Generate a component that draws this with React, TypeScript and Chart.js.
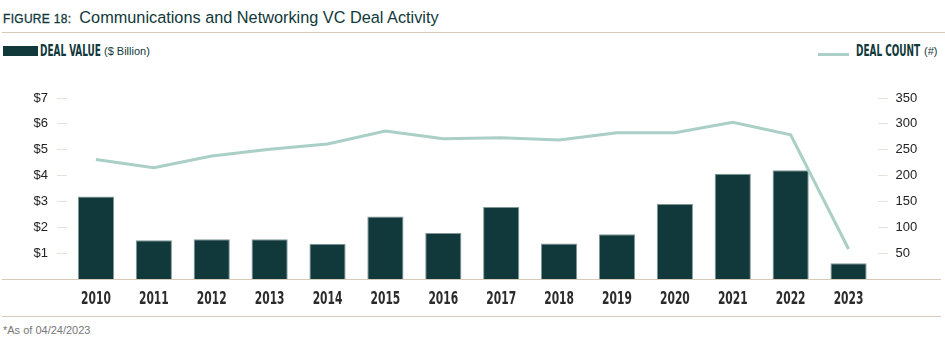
import React, { useEffect, useRef } from "react";
import { Chart, registerables } from "chart.js";

Chart.register(...registerables);

const years = ["2010", "2011", "2012", "2013", "2014", "2015", "2016", "2017", "2018", "2019", "2020", "2021", "2022", "2023"];
const dealValue = [3.19, 1.5, 1.54, 1.54, 1.36, 2.42, 1.78, 2.78, 1.37, 1.73, 2.9, 4.07, 4.21, 0.61];
const dealCount = [231, 215, 238, 251, 261, 286, 271, 273, 269, 283, 283, 303, 279, 58];
const valueTicks = [1, 2, 3, 4, 5, 6, 7];
const countTicks = [50, 100, 150, 200, 250, 300, 350];

const DARK = "#11383a";
const LINE = "#a9cfc6";
const RULE = "#d3cab9";
const TICKMARK = "#e6e1d7";
const TICKFONT = "'Liberation Sans', Arial, sans-serif";
const CONDENSED = "'DejaVu Sans Condensed', 'DejaVu Sans', sans-serif";

const narrowLabels = {
  id: "narrowLabels",
  afterDraw(chart: any) {
    const xs = chart.scales.x;
    const ctx = chart.ctx;
    const labels = chart.data.labels as string[];
    ctx.save();
    ctx.font = "bold 18px " + CONDENSED;
    ctx.fillStyle = "#2b2b2b";
    ctx.textAlign = "center";
    ctx.textBaseline = "alphabetic";
    const y = chart.chartArea.bottom + 25;
    labels.forEach((lab, i) => {
      const x = xs.getPixelForTick(i);
      ctx.save();
      ctx.translate(x, y);
      ctx.scale(0.66, 1);
      ctx.fillText(lab, 0, 0);
      ctx.restore();
    });
    ctx.restore();
  },
};

export default function App() {
  const ref = useRef<HTMLCanvasElement | null>(null);

  useEffect(() => {
    if (!ref.current) return;
    const chart = new Chart(ref.current, {
      data: {
        labels: years,
        datasets: [
          {
            type: "line",
            label: "Deal Count",
            data: dealCount,
            yAxisID: "yCount",
            borderColor: LINE,
            borderWidth: 3,
            pointRadius: 0,
            tension: 0,
            order: 0,
          },
          {
            type: "bar",
            label: "Deal Value",
            data: dealValue,
            yAxisID: "yValue",
            backgroundColor: DARK,
            borderColor: "#7f9895",
            borderWidth: { top: 1, right: 1, left: 1, bottom: 0 },
            categoryPercentage: 1,
            barPercentage: 0.625,
            order: 1,
          },
        ],
      } as any,
      options: {
        animation: false,
        responsive: false,
        maintainAspectRatio: false,
        layout: { padding: { top: 28, left: 0, right: 0, bottom: 0 } },
        plugins: { legend: { display: false }, tooltip: { enabled: false } },
        scales: {
          x: {
            grid: { display: false, drawTicks: false },
            border: { display: false },
            ticks: { display: false },
            afterFit: (s: any) => {
              s.height = 31;
            },
          },
          yValue: {
            position: "left",
            min: 0,
            max: 7,
            ticks: {
              stepSize: 1,
              padding: 9,
              color: "#222",
              font: { family: TICKFONT, size: 13 },
              callback: (v: any) => "$" + v,
            },
            afterBuildTicks: (s: any) => {
              s.ticks = valueTicks.map((v) => ({ value: v }));
            },
            grid: { drawOnChartArea: false, tickLength: 10, color: TICKMARK, lineWidth: 1 },
            border: { display: false },
            afterFit: (s: any) => {
              s.width = 67;
            },
          },
          yCount: {
            position: "right",
            min: 0,
            max: 350,
            ticks: {
              stepSize: 50,
              padding: 8,
              color: "#222",
              font: { family: TICKFONT, size: 13 },
            },
            afterBuildTicks: (s: any) => {
              s.ticks = countTicks.map((v) => ({ value: v }));
            },
            grid: { drawOnChartArea: false, tickLength: 10, color: TICKMARK, lineWidth: 1 },
            border: { display: false },
            afterFit: (s: any) => {
              s.width = 67.5;
            },
          },
        },
      } as any,
      plugins: [narrowLabels],
    });
    return () => chart.destroy();
  }, []);

  const condensedText: React.CSSProperties = {
    position: "absolute",
    top: 42,
    whiteSpace: "nowrap",
    color: DARK,
    fontFamily: CONDENSED,
    fontSize: 15,
    fontWeight: "bold",
    transform: "scaleX(0.66)",
    transformOrigin: "left top",
  };
  const smallText: React.CSSProperties = {
    position: "absolute",
    top: 45,
    whiteSpace: "nowrap",
    color: DARK,
    fontFamily: TICKFONT,
    fontSize: 11,
  };

  return (
    <div style={{ position: "absolute", left: 0, top: 0, width: 945, height: 350, background: "#fff", overflow: "hidden" }}>
      <div style={{ position: "absolute", left: 3, top: 8, whiteSpace: "nowrap", color: DARK, fontFamily: TICKFONT }}>
        <span style={{ fontSize: 12, letterSpacing: 0.3, WebkitTextStroke: "0.3px " + DARK }}>FIGURE 18:</span>
        <span style={{ fontSize: 16.3, marginLeft: 8 }}>Communications and Networking VC Deal Activity</span>
      </div>
      <div style={{ position: "absolute", left: 2, right: 0, top: 32, height: 1, background: RULE }} />

      <div style={{ position: "absolute", left: 3, top: 46, width: 35, height: 10, background: DARK }} />
      <div style={{ ...condensedText, left: 40 }}>DEAL VALUE</div>
      <div style={{ ...smallText, left: 104 }}>($ Billion)</div>

      <div style={{ position: "absolute", left: 818, top: 53, width: 31, height: 3, background: LINE }} />
      <div style={{ ...condensedText, left: 856 }}>DEAL COUNT</div>
      <div style={{ ...smallText, left: 924 }}>(#)</div>

      <canvas ref={ref} width={945} height={240} style={{ position: "absolute", left: 0, top: 70, width: 945, height: 240 }} />

      <div style={{ position: "absolute", left: 2, right: 4, top: 279, height: 1, background: RULE }} />
      <div style={{ position: "absolute", left: 2, right: 4, top: 316, height: 1, background: RULE }} />

      <div style={{ position: "absolute", left: 3, top: 324, fontSize: 11, color: "#777", fontFamily: TICKFONT, whiteSpace: "nowrap" }}>
        *As of 04/24/2023
      </div>
    </div>
  );
}
